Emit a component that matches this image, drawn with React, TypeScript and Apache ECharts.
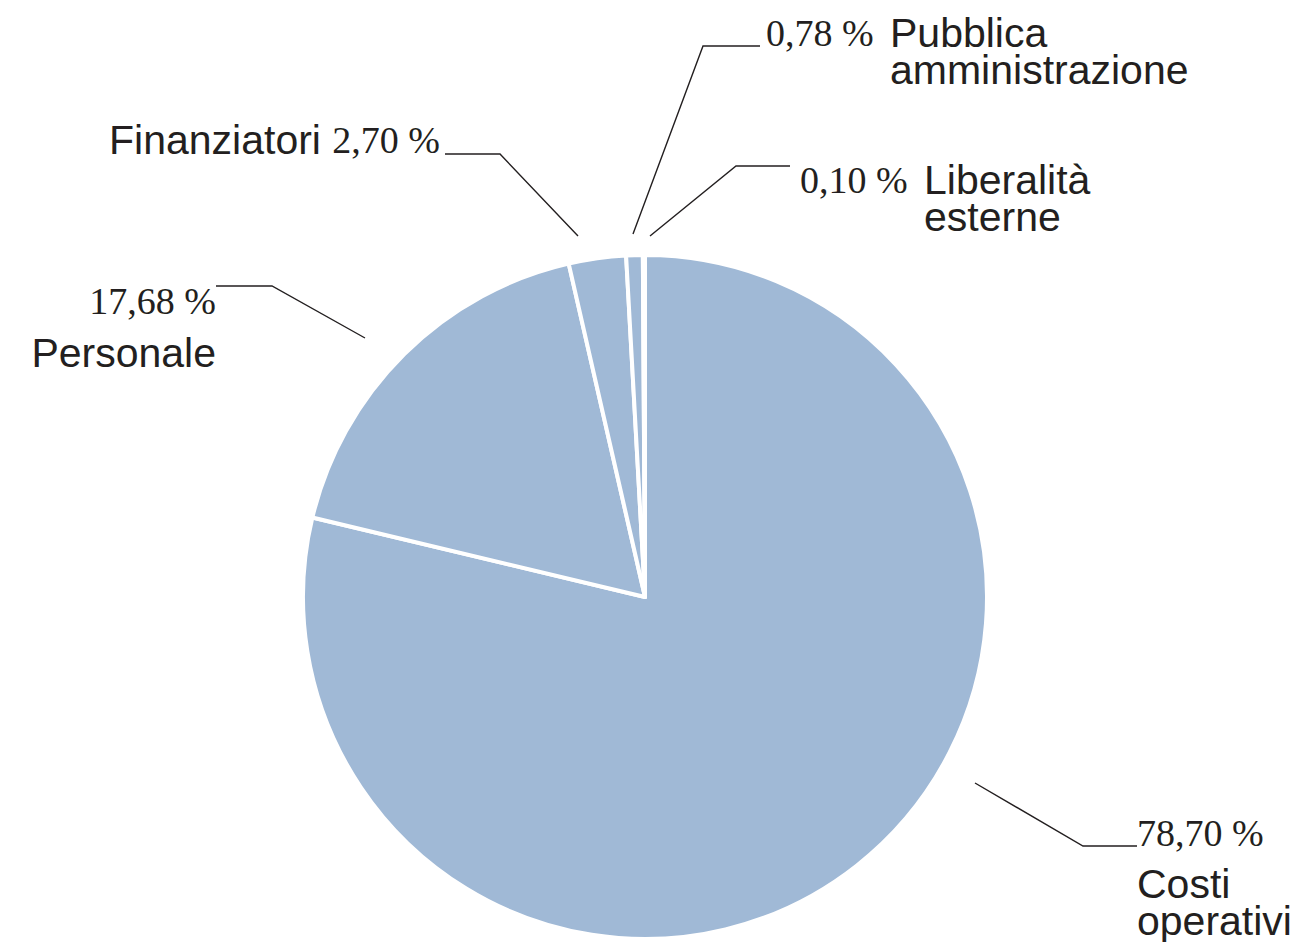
import React, { useEffect, useRef } from "react";
import * as echarts from "echarts";

// ---- data ----
const categories = [
  "Costi operativi",
  "Personale",
  "Finanziatori",
  "Pubblica amministrazione",
  "Liberalità esterne",
];
const values = [78.7, 17.68, 2.7, 0.78, 0.1];
// how each category name is broken over lines in its label
const nameLines = [
  ["Costi", "operativi"],
  ["Personale"],
  ["Finanziatori"],
  ["Pubblica", "amministrazione"],
  ["Liberalità", "esterne"],
];

// ---- layout (positions of labels and leader lines, px) ----
const labelPlacement = [
  { x: 1137, y: 800, align: "left", line: [[975, 783], [1083, 846], [1137, 846]] },
  { x: 216, y: 279, align: "right", line: [[365, 338], [272, 286], [216, 286]] },
  { x: 440, y: 120, align: "right", line: [[578, 236], [500, 154], [445, 154]] },
  { x: 766, y: 14, align: "left", line: [[633, 234], [703, 46], [760, 46]] },
  { x: 800, y: 161, align: "left", line: [[650, 236], [736, 166], [790, 166]] },
];

const INK = "#231f20";
const FILL = "#a0b9d6";
const SERIF = "'Liberation Serif', 'DejaVu Serif', serif";
const SANS = "'Liberation Sans', Arial, sans-serif";

const pct = (v: number) => v.toFixed(2).replace(".", ",") + " %";

function formatLabel(i: number): string {
  const p = pct(values[i]);
  const n = nameLines[i];
  switch (i) {
    case 0:
      return `{pcTall|${p}}\n{t|${n[0]}}\n{t|${n[1]}}`;
    case 1:
      return `{pcMid|${p}}\n{tTall|${n[0]}}`;
    case 2:
      return `{tF|${n[0]} }{pcF|${p}}`;
    default:
      return `{pcW|${p}}{t|${n[0]}}\n{sp|}{t|${n[1]}}`;
  }
}

export default function App() {
  const ref = useRef<HTMLDivElement>(null);

  useEffect(() => {
    if (!ref.current) return;
    const chart = echarts.init(ref.current, null, { renderer: "svg" });
    const option: any = {
      animation: false,
      backgroundColor: "#ffffff",
      series: [
        {
          type: "pie",
          center: [645, 597],
          radius: 342,
          startAngle: 90,
          clockwise: true,
          avoidLabelOverlap: false,
          emphasis: { disabled: true },
          itemStyle: { color: FILL, borderColor: "#ffffff", borderWidth: 4 },
          data: categories.map((name, i) => ({ name, value: values[i] })),
          label: {
            show: true,
            position: "outside",
            color: INK,
            formatter: (p: any) => formatLabel(p.dataIndex),
            rich: {
              pcTall: { fontFamily: SERIF, fontSize: 38, lineHeight: 65, color: INK },
              pcMid: { fontFamily: SERIF, fontSize: 38, lineHeight: 44, color: INK },
              pcF: { fontFamily: SERIF, fontSize: 38, lineHeight: 40, color: INK },
              pcW: { fontFamily: SERIF, fontSize: 38, lineHeight: 37, width: 124, align: "left", color: INK },
              sp: { width: 124, lineHeight: 37 },
              t: { fontFamily: SANS, fontSize: 41, lineHeight: 37, color: INK },
              tTall: { fontFamily: SANS, fontSize: 41, lineHeight: 60, color: INK },
              tF: { fontFamily: SANS, fontSize: 41, lineHeight: 40, color: INK },
            },
          },
          labelLine: {
            show: true,
            smooth: false,
            lineStyle: { color: INK, width: 1.4 },
          },
          labelLayout: (params: any) => {
            const lp = labelPlacement[params.dataIndex];
            return {
              x: lp.x,
              y: lp.y,
              align: lp.align,
              verticalAlign: "top",
              labelLinePoints: lp.line,
            };
          },
        },
      ],
    };
    chart.setOption(option);
    return () => chart.dispose();
  }, []);

  return (
    <div
      ref={ref}
      style={{ position: "fixed", left: 0, top: 0, width: 1307, height: 942, background: "#fff" }}
    />
  );
}
